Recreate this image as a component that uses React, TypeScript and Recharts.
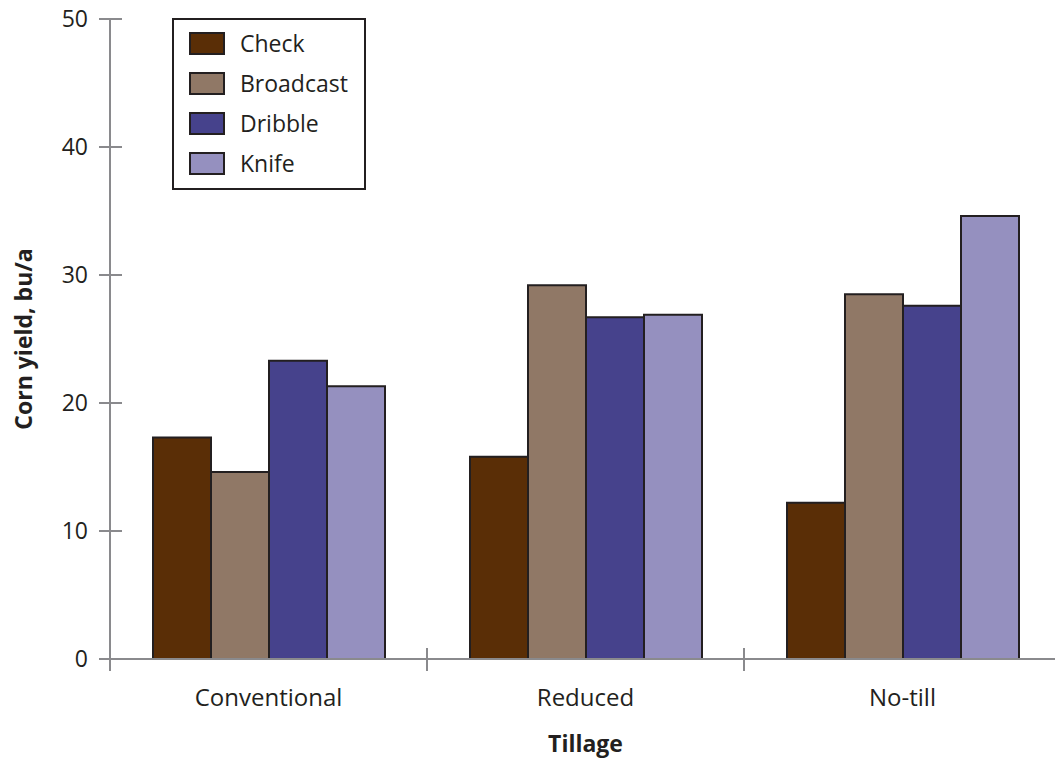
import React from 'react'
import { BarChart, Bar, XAxis, YAxis, Legend } from 'recharts'

const CATEGORIES = ['Conventional', 'Reduced', 'No-till']
const CHECK = [17.3, 15.8, 12.2]
const BROADCAST = [14.6, 29.2, 28.5]
const DRIBBLE = [23.3, 26.7, 27.6]
const KNIFE = [21.3, 26.9, 34.6]
const Y_TICKS = [0, 10, 20, 30, 40, 50]

const SERIES = [
  { key: 'check', name: 'Check', color: '#5a2e06' },
  { key: 'broadcast', name: 'Broadcast', color: '#907866' },
  { key: 'dribble', name: 'Dribble', color: '#46428c' },
  { key: 'knife', name: 'Knife', color: '#9590bf' },
]

const data = CATEGORIES.map((tillage, i) => ({
  tillage,
  check: CHECK[i],
  broadcast: BROADCAST[i],
  dribble: DRIBBLE[i],
  knife: KNIFE[i],
}))

const FONT = '"Open Sans", sans-serif'
const INK = '#231f20'
const AXIS = '#8a8a8d'
const W = 1061
const H = 764
const YAXIS_W = 110
const XAXIS_H = 105
const PLOT_BOTTOM = H - XAXIS_H

const YTick = (props: any) => {
  const { y, payload } = props
  return (
    <g>
      <line x1={YAXIS_W - 11} x2={YAXIS_W + 12} y1={y} y2={y} stroke={AXIS} strokeWidth={2} />
      <text x={88} y={y} dy="0.36em" textAnchor="end" fontFamily={FONT} fontSize={23} fill={INK}>
        {payload.value}
      </text>
    </g>
  )
}

const XTick = (props: any) => {
  const { x, payload, index, visibleTicksCount } = props
  const half = payload.offset || (W - YAXIS_W) / (visibleTicksCount || 3) / 2
  return (
    <g>
      {index === 0 && (
        <line x1={x - half} x2={x - half} y1={PLOT_BOTTOM - 11} y2={PLOT_BOTTOM + 12} stroke={AXIS} strokeWidth={2} />
      )}
      <line x1={x + half} x2={x + half} y1={PLOT_BOTTOM - 11} y2={PLOT_BOTTOM + 12} stroke={AXIS} strokeWidth={2} />
      <text x={x} y={PLOT_BOTTOM + 38} dy="0.36em" textAnchor="middle" fontFamily={FONT} fontSize={24} fill={INK}>
        {payload.value}
      </text>
    </g>
  )
}

const YLabel = (props: any) => {
  const vb = props.viewBox || { x: 0, y: 19, width: YAXIS_W, height: 640 }
  const cy = vb.y + vb.height / 2
  return (
    <text
      x={23}
      y={cy}
      transform={`rotate(-90, 23, ${cy})`}
      textAnchor="middle"
      dominantBaseline="central"
      fontFamily={FONT}
      fontSize={23}
      fontWeight="bold"
      fill={INK}
    >
      Corn yield, bu/a
    </text>
  )
}

const LegendBox = () => (
  <div
    style={{
      border: `2px solid ${INK}`,
      background: '#fff',
      width: 190,
      height: 168,
      boxSizing: 'content-box',
      fontFamily: FONT,
      fontSize: 23,
      color: INK,
      position: 'relative',
    }}
  >
    {SERIES.map((s, i) => (
      <div
        key={s.key}
        style={{ position: 'absolute', left: 15, top: 10 + i * 40, height: 26, display: 'flex', alignItems: 'center' }}
      >
        <span
          style={{
            display: 'inline-block',
            width: 32,
            height: 19,
            background: s.color,
            border: `2px solid ${INK}`,
            marginRight: 15,
          }}
        />
        <span style={{ lineHeight: '26px' }}>{s.name}</span>
      </div>
    ))}
  </div>
)

export default function App() {
  return (
    <div style={{ position: 'absolute', left: 0, top: 0, width: 1055, height: H, overflow: 'hidden', background: '#fff' }}>
      <BarChart width={W} height={H} data={data} margin={{ top: 19, right: 0, bottom: 0, left: 0 }} barGap={0} barSize={58}>
        <XAxis
          dataKey="tillage"
          height={XAXIS_H}
          axisLine={{ stroke: AXIS, strokeWidth: 2 }}
          tickLine={false}
          tick={<XTick />}
          interval={0}
          label={{ value: 'Tillage', position: 'insideBottom', offset: 12, fontFamily: FONT, fontSize: 23, fontWeight: 'bold', fill: INK }}
        />
        <YAxis
          width={YAXIS_W}
          domain={[0, 50]}
          ticks={Y_TICKS}
          interval={0}
          axisLine={{ stroke: AXIS, strokeWidth: 2 }}
          tickLine={false}
          tick={<YTick />}
          label={<YLabel />}
        />
        <Legend
          layout="horizontal"
          verticalAlign="middle"
          align="center"
          wrapperStyle={{ left: 172, top: 18, width: 'auto', height: 'auto' }}
          content={() => <LegendBox />}
        />
        {SERIES.map((s) => (
          <Bar key={s.key} dataKey={s.key} name={s.name} fill={s.color} stroke={INK} strokeWidth={2} isAnimationActive={false} />
        ))}
      </BarChart>
    </div>
  )
}
